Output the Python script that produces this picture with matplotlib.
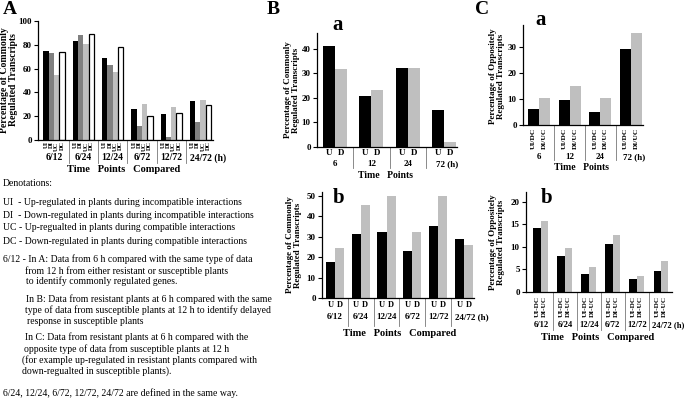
import matplotlib
matplotlib.use("Agg")
import matplotlib.pyplot as plt
from matplotlib.transforms import blended_transform_factory as btf

# ---------------- data ----------------
A_groups = ['6/12', '6/24', '12/24', '6/72', '12/72', '24/72']
A_series = ['UI', 'DI', 'UC', 'DC']
A_UI = [75, 83, 69, 26, 22, 33]
A_DI = [73, 88, 63, 12, 2.5, 15]
A_UC = [55, 81, 57, 30, 27.5, 34]
A_DC = [74, 89, 78, 20, 22.5, 29]

Ba_groups = ['6', '12', '24', '72']
Ba_U = [41, 21, 32.2, 15.1]
Ba_D = [31.8, 23.2, 32.2, 1.9]

Bb_groups = ['6/12', '6/24', '12/24', '6/72', '12/72', '24/72']
Bb_U = [17.5, 31.2, 32.4, 23.3, 35.2, 28.9]
Bb_D = [24.6, 45.4, 50, 32.4, 50.2, 25.8]

Ca_groups = ['6', '12', '24', '72']
Ca_UIDC = [6.2, 9.8, 5.2, 29.5]
Ca_DIUC = [10.5, 15.0, 10.5, 35.7]

Cb_groups = ['6/12', '6/24', '12/24', '6/72', '12/72', '24/72']
Cb_UIDC = [14.1, 7.9, 3.9, 10.6, 2.8, 4.7]
Cb_DIUC = [15.7, 9.8, 5.6, 12.7, 3.5, 6.8]

denotations = [
    "UI  - Up-regulated in plants during incompatible interactions",
    "DI  - Down-regulated in plants during incompatible interactions",
    "UC - Up-regualted in plants during compatible interactions",
    "DC - Down-regulated in plants during compatible interactions",
]

# ---------------- setup ----------------
W, H = 685, 400
SERIF = ['Liberation Serif', 'DejaVu Serif']
plt.rcParams['font.family'] = SERIF
fig = plt.figure(figsize=(W / 100, H / 100), dpi=100)
fig.patch.set_facecolor('white')

BLACK = '#000000'
DGRAY = '#808080'
LGRAY = '#bfbfbf'


def ax_px(l, t, r, b):
    return fig.add_axes([l / W, 1 - b / H, (r - l) / W, (b - t) / H])


def ftext(x, y, s, **kw):
    kw.setdefault('ha', 'left')
    kw.setdefault('va', 'center')
    return fig.text(x / W, 1 - y / H, s, **kw)


def fy(y):
    return 1 - y / H


def style_axis(ax, ylim, yticks, xlim):
    ax.set_ylim(*ylim)
    ax.set_xlim(*xlim)
    ax.set_yticks(yticks)
    ax.set_yticklabels([str(t) for t in yticks], fontsize=6.5, fontweight='bold')
    ax.set_xticks([])
    for s in ['top', 'right']:
        ax.spines[s].set_visible(False)
    for s in ['left', 'bottom']:
        ax.spines[s].set_linewidth(0.9)
    ax.tick_params(axis='y', length=3, width=0.8, pad=1.5)
    ax.set_facecolor('white')


def separators(ax, n, y1, y2):
    tr = btf(ax.transData, fig.transFigure)
    for i in range(n - 1):
        ax.plot([i + 0.5, i + 0.5], [fy(y1), fy(y2)], transform=tr,
                color='#777777', lw=0.6, clip_on=False)


def group_labels(ax, groups, y, last_suffix=' (h)', fs=7, dx_last=0.0):
    tr = btf(ax.transData, fig.transFigure)
    for i, g in enumerate(groups):
        if i == len(groups) - 1:
            ax.text(i + dx_last, fy(y), g + last_suffix, transform=tr, ha='center',
                    va='center', fontsize=fs, fontweight='bold')
        else:
            ax.text(i, fy(y), g, transform=tr, ha='center', va='center',
                    fontsize=fs, fontweight='bold')


def bar_labels(ax, xs, labels, y, rot=0, fs=6):
    tr = btf(ax.transData, fig.transFigure)
    for x, l in zip(xs, labels):
        if rot:
            ax.text(x, fy(y), l, transform=tr, ha='center', va='top', rotation=90,
                    fontsize=fs, fontweight='bold')
        else:
            ax.text(x, fy(y), l, transform=tr, ha='center', va='center',
                    fontsize=fs, fontweight='bold')


# ---------------- Panel A ----------------
axA = ax_px(38, 21, 213, 140)
wA = 0.182
offsA = [-1.5 * wA, -0.5 * wA, 0.5 * wA, 1.5 * wA]
colsA = [BLACK, DGRAY, LGRAY, 'white']
for vals, off, c in zip([A_UI, A_DI, A_UC, A_DC], offsA, colsA):
    xs = [i + off for i in range(len(A_groups))]
    axA.bar(xs, vals, width=wA, color=c, edgecolor='black' if c == 'white' else c,
            linewidth=0.9 if c == 'white' else 0)
style_axis(axA, (0, 100), [0, 20, 40, 60, 80, 100], (-0.55, 5.43))
xsA, lbA = [], []
for i in range(len(A_groups)):
    for off, s in zip(offsA, A_series):
        xsA.append(i + off)
        lbA.append(s)
bar_labels(axA, xsA, lbA, 141.5, rot=90, fs=4.6)
separators(axA, len(A_groups), 140, 163)
group_labels(axA, A_groups, 158, dx_last=0.25)
ftext(124, 169.5, "Time   Points   Compared", ha='center', fontsize=7.5, fontweight='bold')
ftext(9, 80, "Percentage of Commonly\nRegulated Transcripts", ha='center', rotation=90,
      fontsize=7, fontweight='bold', linespacing=1.0)
ftext(3, 10, "A", fontsize=14, fontweight='bold')

# ---------------- Panel B a ----------------
axBa = ax_px(317, 33, 457, 147)
wB = 0.33
axBa.bar([i - wB / 2 for i in range(len(Ba_groups))], Ba_U, width=wB, color=BLACK)
axBa.bar([i + wB / 2 for i in range(len(Ba_groups))], Ba_D, width=wB, color=LGRAY)
style_axis(axBa, (0, 46.5), [0, 10, 20, 30, 40], (-0.5, 3.36))
xs, lb = [], []
for i in range(len(Ba_groups)):
    xs += [i - wB / 2, i + wB / 2]
    lb += ['U', 'D']
bar_labels(axBa, xs, lb, 153, fs=6.5)
separators(axBa, len(Ba_groups), 147, 168)
group_labels(axBa, Ba_groups, 164, fs=6.5, dx_last=0.1)
ftext(385, 175, "Time   Points", ha='center', fontsize=7, fontweight='bold')
ftext(292, 90, "Percentage of Commonly\nRegulated Transcripts", ha='center', rotation=90,
      fontsize=6.5, fontweight='bold', linespacing=1.0)
ftext(267, 10, "B", fontsize=14, fontweight='bold')
ftext(338, 25, "a", ha='center', fontsize=15, fontweight='bold')

# ---------------- Panel B b ----------------
axBb = ax_px(322, 192, 474, 298)
wBb = 0.35
axBb.bar([i - wBb / 2 for i in range(len(Bb_groups))], Bb_U, width=wBb, color=BLACK)
axBb.bar([i + wBb / 2 for i in range(len(Bb_groups))], Bb_D, width=wBb, color=LGRAY)
style_axis(axBb, (0, 52), [0, 10, 20, 30, 40, 50], (-0.5, 5.39))
xs, lb = [], []
for i in range(len(Bb_groups)):
    xs += [i - wBb / 2, i + wBb / 2]
    lb += ['U', 'D']
bar_labels(axBb, xs, lb, 305, fs=6)
separators(axBb, len(Bb_groups), 298, 326)
group_labels(axBb, Bb_groups, 317, fs=6.5, dx_last=0.3)
ftext(400, 333, "Time   Points   Compared", ha='center', fontsize=7.5, fontweight='bold')
ftext(294, 245, "Percentage of Commonly\nRegulated Transcripts", ha='center', rotation=90,
      fontsize=6.5, fontweight='bold', linespacing=1.0)
ftext(339, 198, "b", ha='center', fontsize=15, fontweight='bold')

# ---------------- Panel C a ----------------
axCa = ax_px(523, 25, 643, 125)
wC = 0.36
axCa.bar([i - wC / 2 for i in range(len(Ca_groups))], Ca_UIDC, width=wC, color=BLACK)
axCa.bar([i + wC / 2 for i in range(len(Ca_groups))], Ca_DIUC, width=wC, color=LGRAY)
style_axis(axCa, (0, 38.7), [0, 10, 20, 30], (-0.52, 3.39))
xs, lb = [], []
for i in range(len(Ca_groups)):
    xs += [i - wC / 2, i + wC / 2]
    lb += ['UI/DC', 'DI/UC']
bar_labels(axCa, xs, lb, 128, rot=90, fs=5.4)
separators(axCa, len(Ca_groups), 125, 160)
group_labels(axCa, Ca_groups, 157, fs=6.5, dx_last=0.1)
ftext(582, 167, "Time   Points", ha='center', fontsize=7, fontweight='bold')
ftext(497, 76, "Percentage of Oppositely\nRegulated Transcripts", ha='center', rotation=90,
      fontsize=6.5, fontweight='bold', linespacing=1.0)
ftext(475, 10, "C", fontsize=14, fontweight='bold')
ftext(541, 20, "a", ha='center', fontsize=15, fontweight='bold')

# ---------------- Panel C b ----------------
axCb = ax_px(526, 192, 672, 292)
wCb = 0.31
axCb.bar([i - wCb / 2 for i in range(len(Cb_groups))], Cb_UIDC, width=wCb, color=BLACK)
axCb.bar([i + wCb / 2 for i in range(len(Cb_groups))], Cb_DIUC, width=wCb, color=LGRAY)
style_axis(axCb, (0, 22.2), [0, 5, 10, 15, 20], (-0.62, 5.46))
xs, lb = [], []
for i in range(len(Cb_groups)):
    xs += [i - wCb / 2, i + wCb / 2]
    lb += ['UI-DC', 'DI-UC']
bar_labels(axCb, xs, lb, 296, rot=90, fs=5.2)
separators(axCb, len(Cb_groups), 292, 330)
group_labels(axCb, Cb_groups, 325, fs=6.2, dx_last=0.3)
ftext(598, 338, "Time   Points   Compared", ha='center', fontsize=7.5, fontweight='bold')
ftext(497, 242, "Percentage of Oppositely\nRegulated Transcripts", ha='center', rotation=90,
      fontsize=6.5, fontweight='bold', linespacing=1.0)
ftext(547, 198, "b", ha='center', fontsize=15, fontweight='bold')

# ---------------- Denotation text ----------------
FS = 7
ftext(3, 183, "Denotations:", fontsize=FS)
for k, line in enumerate(denotations):
    ftext(3, [203, 215, 228, 241][k], line, fontsize=FS)
ftext(3, 259, "6/12 - In A: Data from 6 h compared with the same type of data", fontsize=FS)
ftext(25, 271, "from 12 h from either resistant or susceptible plants", fontsize=FS)
ftext(26, 281, "to identify commonly regulated genes.", fontsize=FS)
ftext(26, 299, "In B: Data from resistant plants at 6 h compared with the same", fontsize=FS)
ftext(25, 310, "type of data from susceptible plants at 12 h to identify delayed", fontsize=FS)
ftext(27, 321, "response in susceptible plants", fontsize=FS)
ftext(25, 337, "In C: Data from resistant plants at 6 h compared with the", fontsize=FS)
ftext(24, 349, "opposite type of data from susceptible plants at 12 h", fontsize=FS)
ftext(22, 360, "(for example up-regulated in resistant plants compared with", fontsize=FS)
ftext(22, 371, "down-regualted in susceptible plants).", fontsize=FS)
ftext(3, 393, "6/24, 12/24, 6/72, 12/72, 24/72 are defined in the same way.", fontsize=FS)

fig.savefig("out.png", dpi=100, facecolor='white')
